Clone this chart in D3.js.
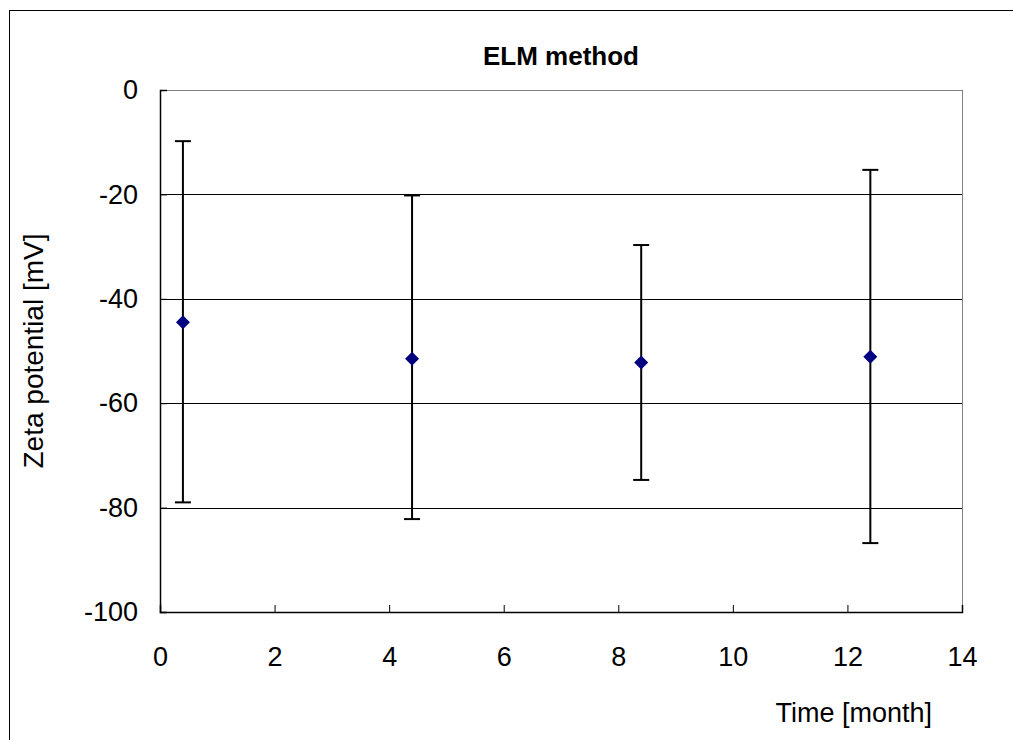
<!DOCTYPE html>
<html>
<head>
<meta charset="utf-8">
<script src="https://cdn.jsdelivr.net/npm/d3@7"></script>
<style>
  body { margin: 0; background: #fff; }
  svg { display: block; font-family: "Liberation Sans", Arial, sans-serif; }
</style>
</head>
<body>
<div id="chart"></div>
<script>
// data
const months = [0.4, 4.4, 8.4, 12.4];
const zeta = [-44.5, -51.5, -52.2, -51.1];
const errTop = [-9.8, -20.2, -29.7, -15.3];
const errBottom = [-79.0, -82.2, -74.7, -86.8];
const xTicks = [0, 2, 4, 6, 8, 10, 12, 14];
const yTicks = [0, -20, -40, -60, -80, -100];

const W = 1013, H = 740;
const margin = { top: 90, right: 51, bottom: 128, left: 160 };
const width = W - margin.left - margin.right;
const height = H - margin.top - margin.bottom;
const fontSize = 27;

const svg = d3.select('#chart').append('svg')
  .attr('width', W)
  .attr('height', H);

// outer chart frame (runs off the page on right/bottom)
svg.append('rect')
  .attr('x', 9.5).attr('y', 10.5)
  .attr('width', W + 20).attr('height', H + 20)
  .attr('fill', 'none').attr('stroke', '#000').attr('stroke-width', 1);

const g = svg.append('g')
  .attr('transform', 'translate(' + margin.left + ',' + margin.top + ')');

const x = d3.scaleLinear().domain([0, 14]).range([0, width]);
const y = d3.scaleLinear().domain([-100, 0]).range([height, 0]);

// gridlines
g.selectAll('line.grid')
  .data(yTicks.filter(d => d !== 0 && d !== -100))
  .enter().append('line')
  .attr('class', 'grid')
  .attr('x1', 0).attr('x2', width)
  .attr('y1', d => Math.round(y(d)) + 0.5).attr('y2', d => Math.round(y(d)) + 0.5)
  .attr('stroke', '#000').attr('stroke-width', 1);

// plot frame top/right
g.append('line').attr('x1', 0).attr('x2', width).attr('y1', 0.5).attr('y2', 0.5)
  .attr('stroke', '#808080');
g.append('line').attr('x1', width + 0.5).attr('x2', width + 0.5).attr('y1', 0).attr('y2', height)
  .attr('stroke', '#808080');

// y axis
const yAxis = g.append('g')
  .call(d3.axisLeft(y).tickValues(yTicks).tickSize(-7).tickPadding(22).tickFormat(d => String(d)));
yAxis.select('.domain').attr('stroke', '#000').attr('stroke-width', 1.5);
yAxis.selectAll('.tick line').attr('stroke', '#000');
yAxis.selectAll('text').attr('font-size', fontSize).attr('fill', '#000')
  .attr('font-family', '"Liberation Sans", Arial, sans-serif');

// x axis
const xAxis = g.append('g')
  .attr('transform', 'translate(0,' + height + ')')
  .call(d3.axisBottom(x).tickValues(xTicks).tickSize(-7).tickPadding(35));
xAxis.select('.domain').attr('stroke', '#000').attr('stroke-width', 1.5);
xAxis.selectAll('.tick line').attr('stroke', '#000');
xAxis.selectAll('text').attr('font-size', fontSize).attr('fill', '#000')
  .attr('font-family', '"Liberation Sans", Arial, sans-serif');

// error bars
const pts = months.map((m, i) => ({ m, v: zeta[i], hi: errTop[i], lo: errBottom[i] }));
const bars = g.selectAll('g.err').data(pts).enter().append('g').attr('class', 'err');
bars.append('line')
  .attr('x1', d => x(d.m)).attr('x2', d => x(d.m))
  .attr('y1', d => y(d.hi)).attr('y2', d => y(d.lo))
  .attr('stroke', '#000').attr('stroke-width', 2);
bars.append('line')
  .attr('x1', d => x(d.m) - 8).attr('x2', d => x(d.m) + 8)
  .attr('y1', d => y(d.hi)).attr('y2', d => y(d.hi))
  .attr('stroke', '#000').attr('stroke-width', 2);
bars.append('line')
  .attr('x1', d => x(d.m) - 8).attr('x2', d => x(d.m) + 8)
  .attr('y1', d => y(d.lo)).attr('y2', d => y(d.lo))
  .attr('stroke', '#000').attr('stroke-width', 2);

// diamond markers
g.selectAll('path.pt').data(pts).enter().append('path')
  .attr('class', 'pt')
  .attr('d', d3.symbol().type(d3.symbolSquare).size(98))
  .attr('transform', d => 'translate(' + x(d.m) + ',' + y(d.v) + ') rotate(45)')
  .attr('fill', '#000080');

// title
svg.append('text')
  .attr('x', margin.left + width / 2).attr('y', 65)
  .attr('text-anchor', 'middle')
  .attr('font-size', 26).attr('font-weight', 'bold')
  .text('ELM method');

// axis titles
svg.append('text')
  .attr('transform', 'translate(43,' + (margin.top + height / 2) + ') rotate(-90)')
  .attr('text-anchor', 'middle')
  .attr('font-size', 28)
  .text('Zeta potential [mV]');

svg.append('text')
  .attr('x', 932).attr('y', 722)
  .attr('text-anchor', 'end')
  .attr('font-size', 27)
  .text('Time [month]');
</script>
</body>
</html>
